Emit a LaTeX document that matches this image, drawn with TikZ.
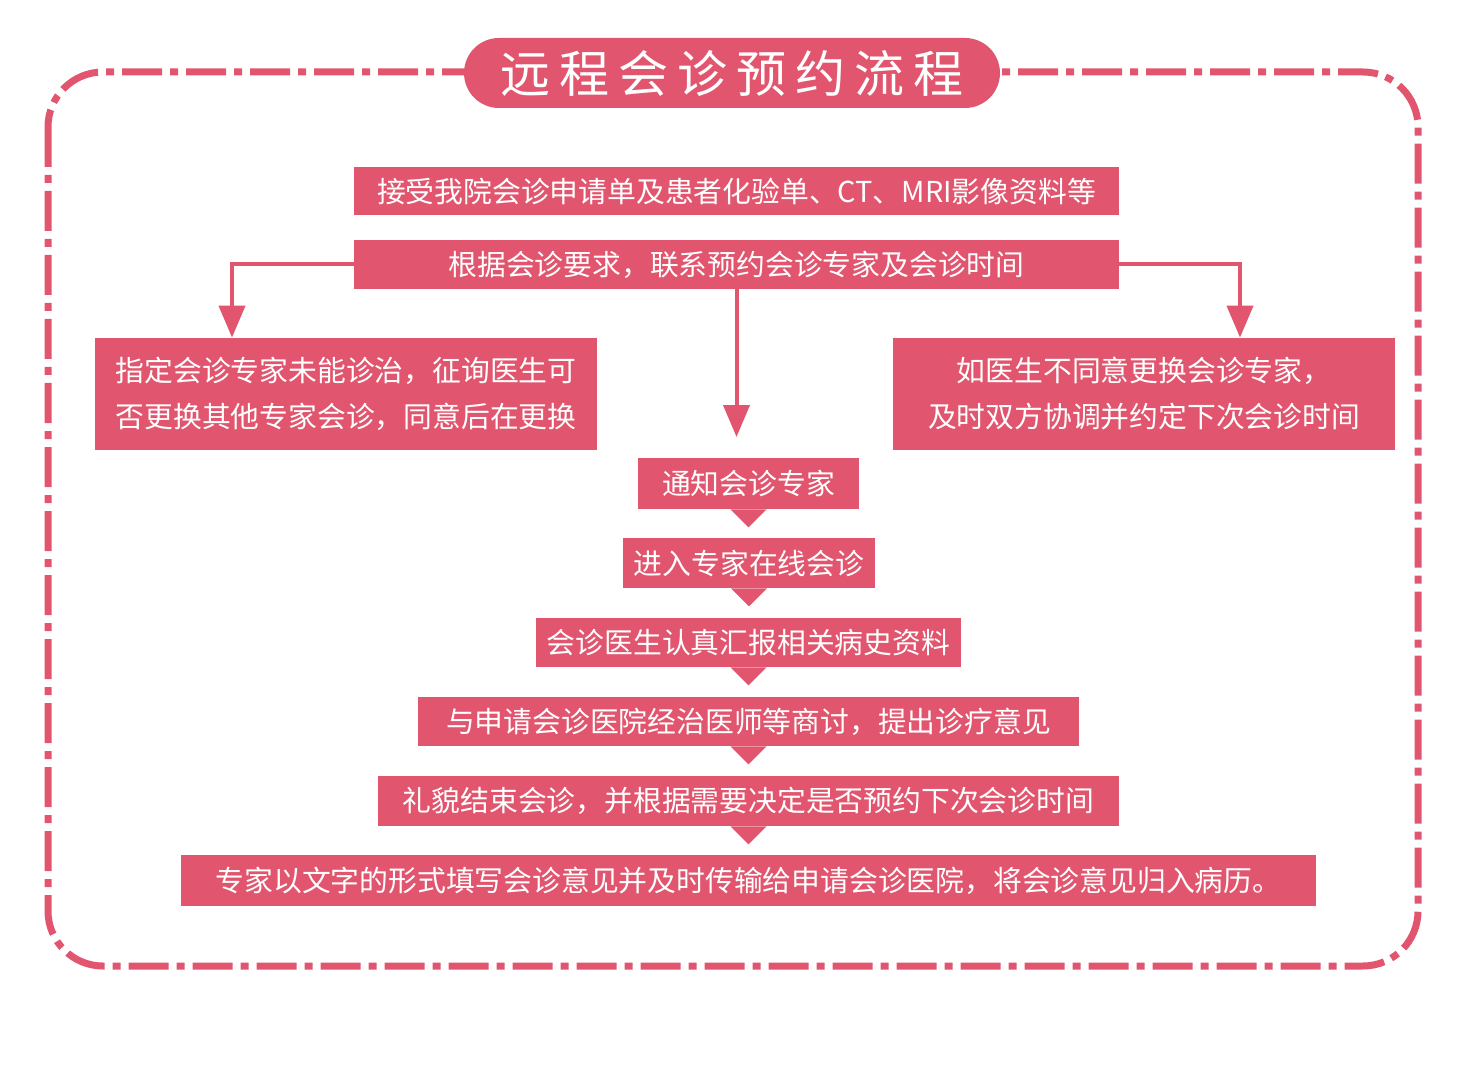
\documentclass[tikz,border=0pt]{standalone}
\usepackage{fontspec}
\usepackage{tikz}
\usetikzlibrary{arrows.meta,positioning,calc}
\newfontfamily\cjk{Noto Sans CJK SC}
\definecolor{consultPink}{RGB}{225,86,110}

\begin{document}
\begin{tikzpicture}[x=0.5pt,y=-0.5pt,
        box/.style={fill=consultPink,text=white,align=center,inner sep=0pt,font=\cjk\fontsize{14.4pt}{23pt}\selectfont,minimum height=24.5pt},
        title/.style={fill=consultPink,text=white,inner sep=0pt,rounded corners=17.5pt,font=\cjk\fontsize{25pt}{30pt}\selectfont,minimum width=268pt,minimum height=35pt},
        arrow/.style={-{Triangle[length=16pt,width=13pt]},line width=2pt,draw=consultPink},
        frame/.style={draw=consultPink,line width=3.5pt,dash pattern=on 20pt off 4pt on 4pt off 4pt,rounded corners=27.5pt},
        tri/.style={fill=consultPink}
      ]
        \useasboundingbox (0,0) rectangle (1484,1075);
        \draw[frame] (48,72) rectangle (1418,966);
        \node[title] (head) at (732,73) {远\hspace{4.5pt}程\hspace{4.5pt}会\hspace{4.5pt}诊\hspace{4.5pt}预\hspace{4.5pt}约\hspace{4.5pt}流\hspace{4.5pt}程};
        \node[box,minimum width=382.5pt,minimum height=24pt] (apply) at (736.5,191) {接受我院会诊申请单及患者化验单、CT、MRI影像资料等};
        \node[box,minimum width=382.5pt] (contact) at (736.5,264.5) {根据会诊要求，联系预约会诊专家及会诊时间};
        \node[box,minimum width=251pt,minimum height=56pt] (swap) at (346,394) {指定会诊专家未能诊治，征询医生可\\否更换其他专家会诊，同意后在更换};
        \node[box,minimum width=251pt,minimum height=56pt] (resched) at (1144,394) {如医生不同意更换会诊专家，\\及时双方协调并约定下次会诊时间};
        \node[box,minimum width=110.5pt,minimum height=25.5pt] (notify) at (748.5,483.5) {通知会诊专家};
        \node[box,minimum width=126pt,minimum height=25pt] (online) at (749,563) {进入专家在线会诊};
        \node[box,minimum width=212.5pt] (report) at (748.5,642.5) {会诊医生认真汇报相关病史资料};
        \node[box,minimum width=330.5pt] (discuss) at (748.5,721.5) {与申请会诊医院经治医师等商讨，提出诊疗意见};
        \node[box,minimum width=370.5pt,minimum height=25pt] (finish) at (748.5,801) {礼貌结束会诊，并根据需要决定是否预约下次会诊时间};
        \node[box,minimum width=567.5pt,minimum height=25.5pt] (record) at (748.5,880.5) {专家以文字的形式填写会诊意见并及时传输给申请会诊医院，将会诊意见归入病历。};
        \coordinate (tip) at (736.5,437);
        \draw[arrow] (contact.west) -| ($(swap.north)+(-114,0)$);
        \draw[arrow] (contact.east) -| ($(resched.north)+(96,0)$);
        \draw[arrow] (contact.south) -- (tip);
        \fill[tri] ($(notify.south)+(-18,0)$) -- ++(36,0) -- ++(-18,18) -- cycle;
        \fill[tri] ($(online.south)+(-18,0)$) -- ++(36,0) -- ++(-18,18) -- cycle;
        \fill[tri] ($(report.south)+(-18,0)$) -- ++(36,0) -- ++(-18,18) -- cycle;
        \fill[tri] ($(discuss.south)+(-18,0)$) -- ++(36,0) -- ++(-18,18) -- cycle;
        \fill[tri] ($(finish.south)+(-18,0)$) -- ++(36,0) -- ++(-18,18) -- cycle;
      \end{tikzpicture}
\end{document}
